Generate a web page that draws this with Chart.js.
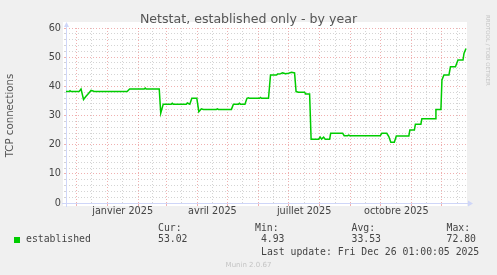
<!DOCTYPE html>
<html>
<head>
<meta charset="utf-8">
<script src="https://cdn.jsdelivr.net/npm/chart.js@4"></script>
<style>
  html, body { margin:0; padding:0; background:#F0F0F0; }
  #wrap { position:relative; width:497px; height:275px; overflow:hidden; }
  #chart { position:absolute; left:0; top:0; }
  .t { position:absolute; white-space:pre; line-height:1; color:#555; font-family:"DejaVu Sans", sans-serif; }
  .mono { font-family:"DejaVu Sans Mono", monospace; font-size:9.8px; color:#444; }
</style>
</head>
<body>
<div id="wrap">
  <canvas id="chart" width="497" height="275"></canvas>
  <div class="t" style="left:0;width:497px;text-align:center;top:12.5px;font-size:12.6px">Netstat, established only - by year</div>
  <div class="t" style="left:490px;top:15px;font-size:5.5px;color:#c4c4c4;transform:rotate(90deg);transform-origin:0 0">RRDTOOL / TOBI OETIKER</div>

  <div class="t mono" style="left:158px;top:222.7px">Cur:</div>
  <div class="t mono" style="left:255px;top:222.7px">Min:</div>
  <div class="t mono" style="left:351.5px;top:222.7px">Avg:</div>
  <div class="t mono" style="left:446.5px;top:222.7px">Max:</div>

  <div style="position:absolute;left:14px;top:236.5px;width:6px;height:6px;background:#00CC00"></div>
  <div class="t mono" style="left:26px;top:234.4px">established</div>
  <div class="t mono" style="left:158px;top:234.4px">53.02</div>
  <div class="t mono" style="left:255px;top:234.4px"> 4.93</div>
  <div class="t mono" style="left:351.5px;top:234.4px">33.53</div>
  <div class="t mono" style="left:446.5px;top:234.4px">72.80</div>

  <div class="t mono" style="left:261px;top:247px">Last update: Fri Dec 26 01:00:05 2025</div>
  <div class="t" style="left:0;width:497px;text-align:center;top:261.5px;font-size:7px;color:#c4c4c4">Munin 2.0.67</div>
</div>
<script>
// ── DATA (x = days since 21 Nov 2024) ──────────────────
const days = [
  0, 3, 4, 5, 13, 15, 17.5, 20, 22, 25, 27, 28.5, 61, 63.5, 78, 79, 80, 93,
  94.5, 97, 105, 106, 107, 120, 121, 123.5, 125.5, 130.5, 132.5, 135, 137,
  150, 151, 152, 165, 167, 172, 173, 174, 178.5, 180.5, 182, 183, 193, 194,
  195, 202, 204, 210, 211, 214, 216, 219, 222, 225, 228, 229.5, 232, 238,
  239, 243, 244.5, 252, 253.5, 255, 257, 258.5, 263, 264, 276, 277.5, 281,
  282, 283, 313.5, 315, 320, 322, 324, 327.5, 329.5, 342, 343, 347.5, 348.5,
  354, 355, 368.5, 369, 374, 375, 377, 382, 383.5, 388.5, 391, 396, 397, 399
];
const established = [
  38.2, 38.2, 38.5, 38.2, 38.2, 39.1, 35.5, 36.6, 37.4, 38.6, 38.4, 38.2, 38.2, 39.1, 39.1, 39.4, 39.1, 39.1,
  30.8, 33.9, 33.9, 34.2, 33.9, 33.9, 34.3, 33.9, 35.9, 35.9, 31.3, 32.3, 32.1,
  32.1, 32.3, 32.1, 32.1, 33.9, 33.9, 34.2, 33.9, 33.9, 35.9, 36.1, 35.9, 35.9, 36.2,
  35.9, 35.9, 43.9, 43.9, 44.2, 44.3, 44.6, 44.3, 44.5, 44.8, 44.6, 38.2, 38.0, 38.0,
  37.4, 37.4, 21.9, 21.9, 22.6, 21.9, 22.6, 21.9, 21.9, 23.9, 23.9, 23.1, 23.1,
  23.3, 23.1, 23.1, 23.9, 23.9, 22.8, 20.8, 20.8, 23.0, 23.0, 25.0, 25.0, 27.0,
  27.0, 28.9, 28.9, 32.1, 32.1, 42.2, 43.9, 43.9, 46.7, 46.7, 49.0, 49.0, 51.3, 53.0
];

// month starts (red grid) and mid-months (grey grid, label spots)
const monthStarts = [10, 41, 72, 100, 131, 161, 192, 222, 253, 284, 314, 345, 375];
const midMonths   = [25.5, 56.5, 86, 115.5, 146, 176.5, 207, 237.5, 268.5, 299, 329.5, 360, 390.5];
const xLabelDays  = [56.5, 146, 237.5, 329.5];
const xLabels     = ['janvier 2025', 'avril 2025', 'juillet 2025', 'octobre 2025'];

const Y_MAX = 60;
const GRID  = 'rgba(143,143,143,0.38)';
const MGRID = 'rgba(222,79,79,0.45)';
const AXIS  = '#CFD6F8';

// ── canvas + axis arrows ───────────────────────────────
const frame = {
  id: 'frame',
  beforeDraw(chart) {
    const { ctx, chartArea: a } = chart;
    ctx.save();
    ctx.fillStyle = '#FFFFFF';
    ctx.fillRect(a.left - 3, a.top - 6, a.right - a.left + 3, a.bottom - a.top + 9);
    ctx.restore();
  },
  beforeDatasetsDraw(chart) {
    const { ctx, chartArea: a } = chart;
    ctx.save();
    ctx.strokeStyle = AXIS;
    ctx.fillStyle = AXIS;
    ctx.lineWidth = 1;
    ctx.beginPath();
    ctx.moveTo(a.left - 4, a.bottom + 0.5);
    ctx.lineTo(a.right + 2, a.bottom + 0.5);
    ctx.moveTo(a.left + 0.5, a.bottom + 4);
    ctx.lineTo(a.left + 0.5, a.top - 2);
    ctx.stroke();
    ctx.beginPath();
    ctx.moveTo(a.left - 2, a.top - 1);
    ctx.lineTo(a.left + 3, a.top - 1);
    ctx.lineTo(a.left + 0.5, a.top - 6);
    ctx.closePath();
    ctx.fill();
    ctx.beginPath();
    ctx.moveTo(a.right + 1, a.bottom - 2.5);
    ctx.lineTo(a.right + 1, a.bottom + 3.5);
    ctx.lineTo(a.right + 6, a.bottom + 0.5);
    ctx.closePath();
    ctx.fill();
    ctx.restore();
  }
};

const tickFont = { family: 'DejaVu Sans', size: 9.7 };

new Chart(document.getElementById('chart'), {
  type: 'line',
  data: {
    datasets: [{
      label: 'established',
      data: days.map((d, i) => ({ x: d, y: established[i] })),
      borderColor: '#00CC00',
      borderWidth: 1.5,
      pointRadius: 0,
      tension: 0,
      fill: false
    }]
  },
  options: {
    responsive: false,
    devicePixelRatio: 1,
    animation: false,
    events: [],
    layout: { padding: { top: 28, right: 30, bottom: 56, left: 0 } },
    plugins: { legend: { display: false }, tooltip: { enabled: false } },
    scales: {
      x: {
        type: 'linear',
        min: 0,
        max: 400,
        afterBuildTicks: s => {
          s.ticks = monthStarts.concat(midMonths).sort((a, b) => a - b).map(v => ({ value: v }));
        },
        afterFit: s => { s.height = 16; },
        ticks: {
          autoSkip: false,
          maxRotation: 0,
          padding: 0,
          color: '#444',
          font: tickFont,
          callback: v => {
            const k = xLabelDays.indexOf(v);
            return k >= 0 ? xLabels[k] : '';
          }
        },
        grid: {
          color: c => monthStarts.includes(c.tick.value) ? MGRID : GRID,
          tickColor: c => monthStarts.includes(c.tick.value) ? MGRID : 'rgba(0,0,0,0)',
          tickLength: 3,
          lineWidth: 1
        },
        border: { display: false, dash: [1, 2] }
      },
      y: {
        min: 0,
        max: Y_MAX,
        afterFit: s => { s.width = 66; },
        ticks: {
          stepSize: 2,
          autoSkip: false,
          padding: 3,
          color: '#444',
          font: tickFont,
          callback: v => v % 10 === 0 ? v : ''
        },
        grid: {
          color: c => c.tick.value % 10 === 0 ? MGRID : GRID,
          tickColor: c => c.tick.value % 10 === 0 ? MGRID : GRID,
          tickLength: 2,
          lineWidth: 1
        },
        border: { display: false, dash: [1, 2] },
        title: {
          display: true,
          text: 'TCP connections',
          color: '#555',
          font: { family: 'DejaVu Sans', size: 10.2 },
          padding: { top: 4, bottom: 0 }
        }
      }
    }
  },
  plugins: [frame]
});
</script>
</body>
</html>
